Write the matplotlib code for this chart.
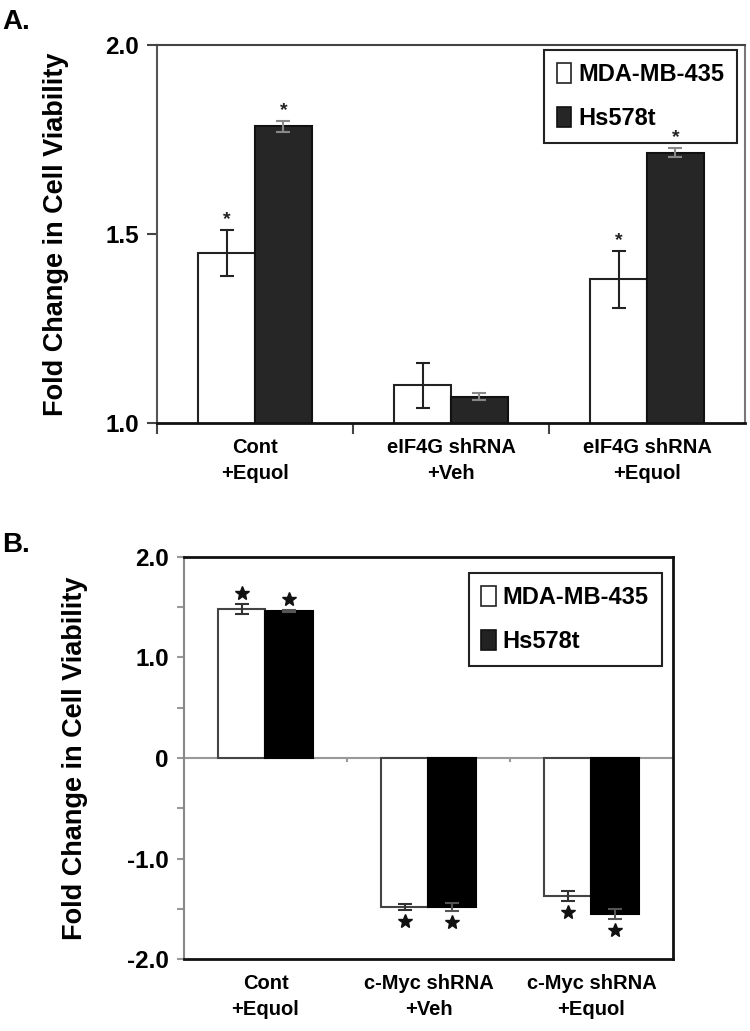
import matplotlib
matplotlib.use("Agg")
import matplotlib.pyplot as plt
from matplotlib.patches import Patch
import numpy as np

plt.rcParams['font.family'] = ['Liberation Sans', 'DejaVu Sans']

series = ['MDA-MB-435', 'Hs578t']

# panel A
cats_a = ['Cont\n+Equol', 'eIF4G shRNA\n+Veh', 'eIF4G shRNA\n+Equol']
mda_a = [1.45, 1.10, 1.38]
mda_a_err = [0.06, 0.06, 0.075]
hs_a = [1.785, 1.07, 1.715]
hs_a_err = [0.015, 0.01, 0.012]
star_a = [[True, True], [False, False], [True, True]]
yticks_a = [1.0, 1.5, 2.0]

# panel B
cats_b = ['Cont\n+Equol', 'c-Myc shRNA\n+Veh', 'c-Myc shRNA\n+Equol']
mda_b = [1.48, -1.48, -1.37]
mda_b_err = [0.05, 0.03, 0.05]
hs_b = [1.46, -1.48, -1.55]
hs_b_err = [0.01, 0.04, 0.05]
yticks_b = [-2.0, -1.0, 0, 1.0, 2.0]
yticklabels_b = ['-2.0', '-1.0', '0', '1.0', '2.0']

W = 0.29
fig = plt.figure(figsize=(7.5, 10.31), dpi=100)

# ---------- A ----------
ax = fig.add_axes([0.2093, 0.5897, 0.784, 0.3666])
x = np.arange(len(cats_a))
ax.bar(x - W/2, mda_a, W, color='white', edgecolor='#222222', lw=1.5, zorder=2)
ax.bar(x + W/2, hs_a, W, color='#262626', edgecolor='#111111', lw=1.5, zorder=2)
ax.errorbar(x - W/2, mda_a, yerr=mda_a_err, fmt='none', ecolor='#222222',
            elinewidth=1.5, capsize=5, capthick=1.5, zorder=3)
ax.errorbar(x + W/2, hs_a, yerr=hs_a_err, fmt='none', ecolor='#888888',
            elinewidth=1.5, capsize=5, capthick=1.5, zorder=3)
for i in range(len(cats_a)):
    if star_a[i][0]:
        ax.text(x[i] - W/2, mda_a[i] + mda_a_err[i] + 0.005, '*', ha='center',
                va='bottom', fontsize=14, fontweight='bold', color='#222222', zorder=7)
    if star_a[i][1]:
        ax.text(x[i] + W/2, hs_a[i] + hs_a_err[i] + 0.005, '*', ha='center',
                va='bottom', fontsize=14, fontweight='bold', color='#222222', zorder=7)
ax.set_xlim(-0.5, 2.5)
ax.set_ylim(1.0, 2.0)
ax.set_yticks(yticks_a)
ax.set_yticklabels(['%.1f' % v for v in yticks_a], fontsize=17.5, fontweight='bold')
ax.set_xticks(x)
ax.set_xticklabels(cats_a, fontsize=14.5, fontweight='bold', linespacing=1.45)
ax.tick_params(axis='x', length=0, pad=11)
ax.set_xticks([-0.5, 0.5, 1.5], minor=True)
ax.tick_params(axis='x', which='minor', length=8, width=1.5, color='#444444')
ax.tick_params(axis='y', length=7, width=1.5, color='#444444', pad=6)
ax.spines['left'].set_color('#555555')
ax.spines['left'].set_linewidth(1.5)
ax.spines['bottom'].set_color('#111111')
ax.spines['bottom'].set_linewidth(2)
ax.spines['top'].set_color('#444444')
ax.spines['top'].set_linewidth(1.5)
ax.spines['right'].set_color('#777777')
ax.spines['right'].set_linewidth(1.5)
ax.set_ylabel('Fold Change in Cell Viability', fontsize=19.5, fontweight='bold', labelpad=26)
handles = [Patch(facecolor='white', edgecolor='#222222', lw=1.2),
           Patch(facecolor='#262626', edgecolor='#111111', lw=1.2)]
leg = ax.legend(handles, series, loc='upper right', bbox_to_anchor=(0.987, 0.987),
                prop={'size': 17, 'weight': 'bold'}, frameon=True, fancybox=False,
                edgecolor='#222222', framealpha=1, borderaxespad=0,
                handlelength=0.6, handleheight=0.9, handletextpad=0.3,
                labelspacing=0.9, borderpad=0.55)
leg.get_frame().set_linewidth(1.5)
fig.text(0.003, 0.972, 'A.', fontsize=20, fontweight='bold')

# ---------- B ----------
bx = fig.add_axes([0.2453, 0.0698, 0.652, 0.390])
x = np.arange(len(cats_b))
bx.bar(x - W/2, mda_b, W, color='white', edgecolor='#444444', lw=1.5, zorder=2)
bx.bar(x + W/2, hs_b, W, color='black', edgecolor='black', lw=1.5, zorder=2)
bx.errorbar(x - W/2, mda_b, yerr=mda_b_err, fmt='none', ecolor='#333333',
            elinewidth=1.5, capsize=5, capthick=1.5, zorder=3)
bx.errorbar(x + W/2, hs_b, yerr=hs_b_err, fmt='none', ecolor='#555555',
            elinewidth=1.5, capsize=5, capthick=1.5, zorder=3)
for xs, vals, errs in [(x - W/2, mda_b, mda_b_err), (x + W/2, hs_b, hs_b_err)]:
    for xi, v, e in zip(xs, vals, errs):
        s = np.sign(v)
        bx.plot(xi, v + s * (e + 0.11), marker='*', ms=10, color='#111111', zorder=4)
bx.axhline(0, color='#999999', lw=1.5, zorder=1)
bx.vlines([0.5, 1.5], -0.04, 0, color='#999999', lw=1.5)
bx.set_xlim(-0.5, 2.5)
bx.set_ylim(-2.0, 2.0)
bx.set_yticks(yticks_b)
bx.set_yticklabels(yticklabels_b, fontsize=17.5, fontweight='bold')
bx.set_yticks([-1.5, -0.5, 0.5, 1.5], minor=True)
bx.tick_params(axis='y', which='both', length=5, width=1.5, color='#999999', pad=6)
bx.set_xticks(x)
bx.set_xticklabels(cats_b, fontsize=14.5, fontweight='bold', linespacing=1.45)
bx.tick_params(axis='x', length=0, pad=11)
bx.spines['left'].set_color('#888888')
bx.spines['left'].set_linewidth(1.5)
for sp in ['bottom', 'top', 'right']:
    bx.spines[sp].set_color('#111111')
    bx.spines[sp].set_linewidth(2)
bx.set_ylabel('Fold Change in Cell Viability', fontsize=19.5, fontweight='bold', labelpad=28)
handles = [Patch(facecolor='white', edgecolor='#222222', lw=1.2),
           Patch(facecolor='#222222', edgecolor='#111111', lw=1.2)]
leg = bx.legend(handles, series, loc='upper right', bbox_to_anchor=(0.977, 0.96),
                prop={'size': 17, 'weight': 'bold'}, frameon=True, fancybox=False,
                edgecolor='#222222', framealpha=1, borderaxespad=0,
                handlelength=0.6, handleheight=0.9, handletextpad=0.3,
                labelspacing=0.9, borderpad=0.55)
leg.get_frame().set_linewidth(1.5)
fig.text(0.003, 0.465, 'B.', fontsize=20, fontweight='bold')

fig.savefig('out.png', dpi=100)
